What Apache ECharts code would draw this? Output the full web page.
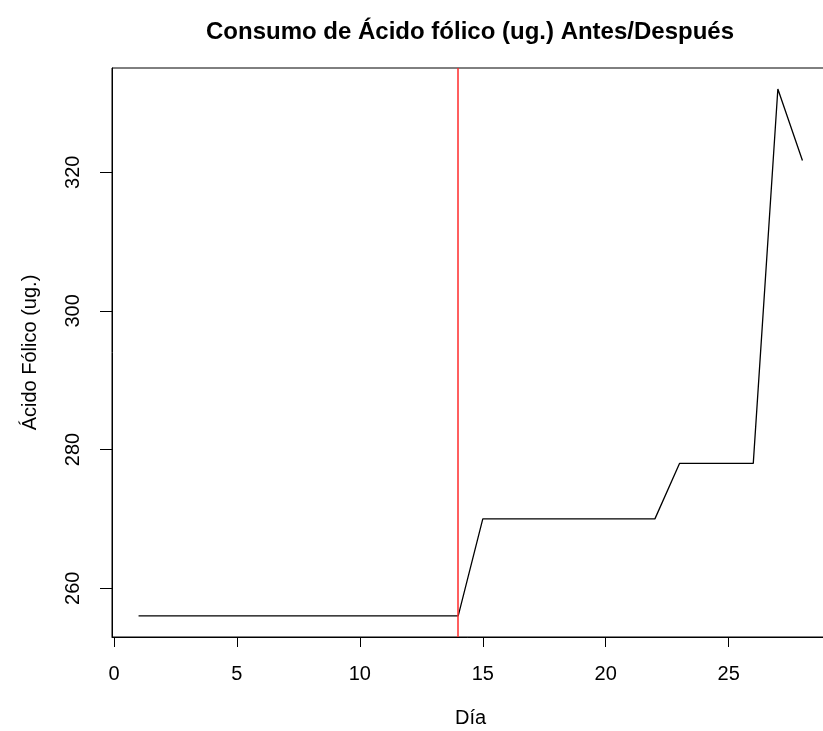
<!DOCTYPE html>
<html>
<head>
<meta charset="utf-8">
<script src="https://cdn.jsdelivr.net/npm/echarts@6/dist/echarts.min.js"></script>
<style>
html,body{margin:0;padding:0;background:#fff;}
#chart{width:823px;height:731px;}
</style>
</head>
<body>
<div id="chart"></div>
<script>
var days = [1,2,3,4,5,6,7,8,9,10,11,12,13,14,15,16,17,18,19,20,21,22,23,24,25,26,27,28];
var folico = [256,256,256,256,256,256,256,256,256,256,256,256,256,256,270,270,270,270,270,270,270,270,278,278,278,278,332,321.7];
var xTicks = [0,5,10,15,20,25];
var yTicks = [260,280,300,320];
var cutDay = 14;
var titleText = 'Consumo de Ácido fólico (ug.) Antes/Después';
var xName = 'Día';
var yName = 'Ácido Fólico (ug.)';

var pts = days.map(function(d,i){return [d, folico[i]];});
var chart = echarts.init(document.getElementById('chart'));
var font = 'Liberation Sans, Arial, sans-serif';
chart.setOption({
  animation:false,
  backgroundColor:'#fff',
  title:{text:titleText,left:465,top:15,textAlign:'center',textStyle:{fontFamily:font,fontSize:24,fontWeight:'bold',color:'#000'}},
  grid:{left:112,top:68,width:717,height:569,outerBoundsMode:'none',containLabel:false,show:true,borderColor:'#000',borderWidth:1,backgroundColor:'transparent'},
  xAxis:{type:'value',min:-0.08,max:29.08,
    name:xName,nameLocation:'middle',nameGap:71,nameTextStyle:{fontFamily:font,fontSize:20,color:'#000'},
    axisLine:{show:true,onZero:false,lineStyle:{color:'#000',width:1}},
    axisTick:{show:true,length:10,inside:false,lineStyle:{color:'#000'},customValues:xTicks},
    axisLabel:{fontFamily:font,fontSize:20,color:'#000',margin:27,customValues:xTicks},
    splitLine:{show:false}},
  yAxis:{type:'value',min:252.96,max:335.04,
    name:yName,nameLocation:'middle',nameGap:72,nameRotate:90,nameTextStyle:{fontFamily:font,fontSize:20,color:'#000'},
    axisLine:{show:true,onZero:false,lineStyle:{color:'#000',width:1}},
    axisTick:{show:true,length:12,inside:false,lineStyle:{color:'#000'},customValues:yTicks},
    axisLabel:{fontFamily:font,fontSize:20,color:'#000',margin:29,rotate:90,customValues:yTicks},
    splitLine:{show:false}},
  series:[{type:'line',data:pts,showSymbol:false,symbol:'none',lineStyle:{color:'#000',width:1.3},
    markLine:{silent:true,symbol:'none',label:{show:false},lineStyle:{color:'#ff2a2a',width:1.5,type:'solid'},data:[{xAxis:cutDay}]}}]
});
</script>
</body>
</html>
